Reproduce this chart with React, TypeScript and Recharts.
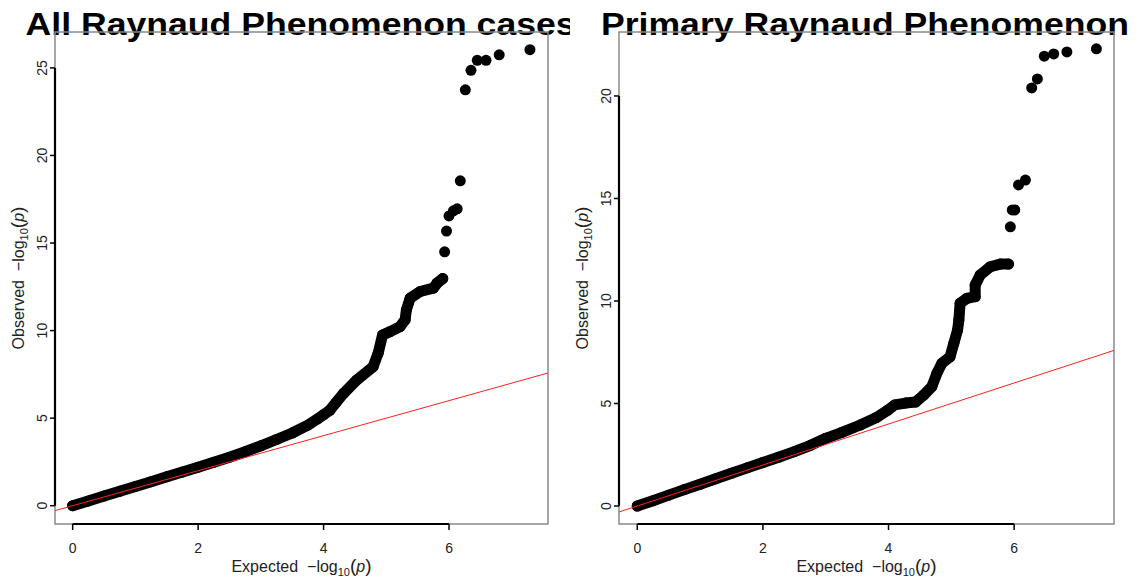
import React from 'react';
import { ScatterChart, Scatter, XAxis, YAxis, ReferenceLine, ReferenceArea } from 'recharts';

const FONT = '"Liberation Sans", Arial, Helvetica, sans-serif';

const xTicks = [0, 2, 4, 6];
const allYTicks = [0, 5, 10, 15, 20, 25];
const primaryYTicks = [0, 5, 10, 15, 20];

// All Raynaud Phenomenon cases: dense part of the QQ curve
const allBandExpected = [0, 0.25, 0.5, 0.75, 1.0, 1.25, 1.5, 1.75, 2.0, 2.25, 2.5, 2.75, 3.0, 3.25, 3.5, 3.75, 3.9, 4.0, 4.1, 4.2, 4.32, 4.53, 4.79, 4.87, 4.94, 5.06, 5.22, 5.3, 5.32, 5.38, 5.54, 5.75, 5.81, 5.9];
const allBandObserved = [0, 0.27, 0.55, 0.82, 1.1, 1.37, 1.65, 1.92, 2.2, 2.48, 2.77, 3.08, 3.42, 3.78, 4.15, 4.6, 4.95, 5.2, 5.45, 5.9, 6.42, 7.18, 7.94, 8.71, 9.75, 9.94, 10.23, 10.61, 11.18, 11.85, 12.23, 12.42, 12.71, 12.97];
// sparse top tail
const allTailExpected = [5.93, 5.96, 6.0, 6.07, 6.13, 6.18, 6.26, 6.35, 6.45, 6.59, 6.8, 7.29];
const allTailObserved = [14.5, 15.68, 16.55, 16.84, 16.95, 18.55, 23.75, 24.86, 25.43, 25.43, 25.75, 26.04];

// Primary Raynaud Phenomenon
const primaryBandExpected = [0, 0.25, 0.5, 0.75, 1.0, 1.25, 1.5, 1.75, 2.0, 2.25, 2.5, 2.75, 3.0, 3.25, 3.55, 3.8, 3.99, 4.1, 4.27, 4.43, 4.56, 4.69, 4.77, 4.85, 4.98, 5.04, 5.1, 5.12, 5.14, 5.25, 5.38, 5.38, 5.46, 5.62, 5.78, 5.91];
const primaryBandObserved = [0, 0.26, 0.53, 0.8, 1.06, 1.33, 1.6, 1.86, 2.12, 2.38, 2.65, 2.95, 3.3, 3.58, 3.95, 4.3, 4.68, 4.93, 5.02, 5.07, 5.41, 5.82, 6.47, 6.96, 7.28, 7.94, 8.59, 9.07, 9.89, 10.13, 10.21, 10.78, 11.27, 11.67, 11.8, 11.8];
const primaryTailExpected = [5.94, 5.97, 6.01, 6.07, 6.18, 6.28, 6.37, 6.48, 6.63, 6.84, 7.31];
const primaryTailObserved = [13.62, 14.44, 14.44, 15.66, 15.9, 20.39, 20.83, 21.94, 22.05, 22.15, 22.3];

const zip = (xs: number[], ys: number[]) => xs.map((x, i) => ({ x, y: ys[i] }));

const Dot = (props: any) => <circle cx={props.cx} cy={props.cy} r={5.5} fill="#000" />;

type PanelProps = {
  title: string;
  titleX: number;
  titleLen: number;
  band: { x: number; y: number }[];
  tail: { x: number; y: number }[];
  yTicks: number[];
  xDomain: [number, number];
  yDomain: [number, number];
  plotLeft: number;
  plotRight: number;
};

const TICK_COLOR = '#222';

function AxisTitle({ word }: { word: string }) {
  return (
    <>
      {word}
      {'\u00A0\u00A0'}−log<tspan fontSize={11} dy={4}>10</tspan>
      <tspan dy={-4} fontSize={19}>(</tspan>
      <tspan fontStyle="italic">p</tspan>
      <tspan fontSize={19}>)</tspan>
    </>
  );
}

function Panel(p: PanelProps) {
  const W = 570;
  const H = 578;
  const plotTop = 32;
  const plotBottom = 524;
  const [x0, x1] = p.xDomain;
  const [y0, y1] = p.yDomain;
  const cx = (p.plotLeft + p.plotRight) / 2;
  const cy = (plotTop + plotBottom) / 2;
  const tickLabelX = p.plotLeft - 7.5;
  const yTitleX = p.plotLeft - 31;

  const XTick = (props: any) => (
    <text x={props.x} y={553} textAnchor="middle" fontSize={14} fill={TICK_COLOR} fontFamily={FONT}>
      {props.payload.value}
    </text>
  );
  const YTick = (props: any) => (
    <text
      x={tickLabelX}
      y={props.y}
      transform={`rotate(-90 ${tickLabelX} ${props.y})`}
      textAnchor="middle"
      fontSize={14}
      fill={TICK_COLOR}
      fontFamily={FONT}
    >
      {props.payload.value}
    </text>
  );

  return (
    <div style={{ position: 'relative', width: W, height: H, overflow: 'hidden' }}>
      <svg width={W} height={H} style={{ position: 'absolute', left: 0, top: 0 }}>
        <text
          x={p.titleX}
          y={35}
          fontSize={31}
          fontWeight="bold"
          fontFamily={FONT}
          fill="#000"
          textLength={p.titleLen}
          lengthAdjust="spacingAndGlyphs"
        >
          {p.title}
        </text>
        <text x={cx} y={572} textAnchor="middle" fontSize={16} fill={TICK_COLOR} fontFamily={FONT}>
          <AxisTitle word="Expected" />
        </text>
        <text
          x={yTitleX}
          y={cy}
          transform={`rotate(-90 ${yTitleX} ${cy})`}
          textAnchor="middle"
          fontSize={16}
          fill={TICK_COLOR}
          fontFamily={FONT}
        >
          <AxisTitle word="Observed" />
        </text>
      </svg>
      <div style={{ position: 'absolute', left: 0, top: 0 }}>
        <ScatterChart
          width={W}
          height={H}
          margin={{ top: plotTop, right: W - p.plotRight, bottom: 0, left: 0 }}
        >
          <XAxis
            type="number"
            dataKey="x"
            domain={p.xDomain}
            ticks={xTicks}
            allowDataOverflow
            height={H - plotBottom}
            axisLine={false}
            tickSize={6}
            tickLine={{ stroke: '#000', strokeWidth: 1.5 }}
            tick={XTick}
            interval={0}
          />
          <YAxis
            type="number"
            dataKey="y"
            domain={p.yDomain}
            ticks={p.yTicks}
            allowDataOverflow
            width={p.plotLeft}
            axisLine={false}
            tickSize={5}
            tickLine={{ stroke: '#000', strokeWidth: 1.5 }}
            tick={YTick}
            interval={0}
          />
          <ReferenceArea
            x1={x0}
            x2={x1}
            y1={y0}
            y2={y1}
            fill="none"
            fillOpacity={0}
            stroke="#8a8a8a"
            strokeWidth={1.5}
            ifOverflow="visible"
          />
          <Scatter
            data={p.band}
            fill="#000"
            shape={Dot}
            line={{ stroke: '#000', strokeWidth: 11, strokeLinejoin: 'round', strokeLinecap: 'round' }}
            lineJointType="linear"
            isAnimationActive={false}
          />
          <Scatter data={p.tail} fill="#000" shape={Dot} isAnimationActive={false} />
          <ReferenceLine
            segment={[{ x: xTicks[0], y: y0 }, { x: xTicks[xTicks.length - 1], y: y0 }]}
            stroke="#000"
            strokeWidth={2.2}
            ifOverflow="visible"
          />
          <ReferenceLine
            segment={[{ x: x0, y: p.yTicks[0] }, { x: x0, y: p.yTicks[p.yTicks.length - 1] }]}
            stroke="#000"
            strokeWidth={2.2}
            ifOverflow="visible"
          />
          <ReferenceLine
            segment={[{ x: x0, y: x0 }, { x: x1, y: x1 }]}
            stroke="#ff2020"
            strokeWidth={1}
            ifOverflow="hidden"
            zIndex={2000}
          />
        </ScatterChart>
      </div>
    </div>
  );
}

export default function App() {
  return (
    <div style={{ position: 'absolute', left: 0, top: 0, width: 1140, height: 578, background: '#fff' }}>
      <div style={{ position: 'absolute', left: 0, top: 0 }}>
        <Panel
          title="All Raynaud Phenomenon cases"
          titleX={25.6}
          titleLen={550}
          band={zip(allBandExpected, allBandObserved)}
          tail={zip(allTailExpected, allTailObserved)}
          yTicks={allYTicks}
          xDomain={[-0.282, 7.578]}
          yDomain={[-1.045, 27.05]}
          plotLeft={55}
          plotRight={548}
        />
      </div>
      <div style={{ position: 'absolute', left: 570, top: 0 }}>
        <Panel
          title="Primary Raynaud Phenomenon"
          titleX={31}
          titleLen={528}
          band={zip(primaryBandExpected, primaryBandObserved)}
          tail={zip(primaryTailExpected, primaryTailObserved)}
          yTicks={primaryYTicks}
          xDomain={[-0.291, 7.59]}
          yDomain={[-0.878, 23.12]}
          plotLeft={49}
          plotRight={544}
        />
      </div>
    </div>
  );
}
